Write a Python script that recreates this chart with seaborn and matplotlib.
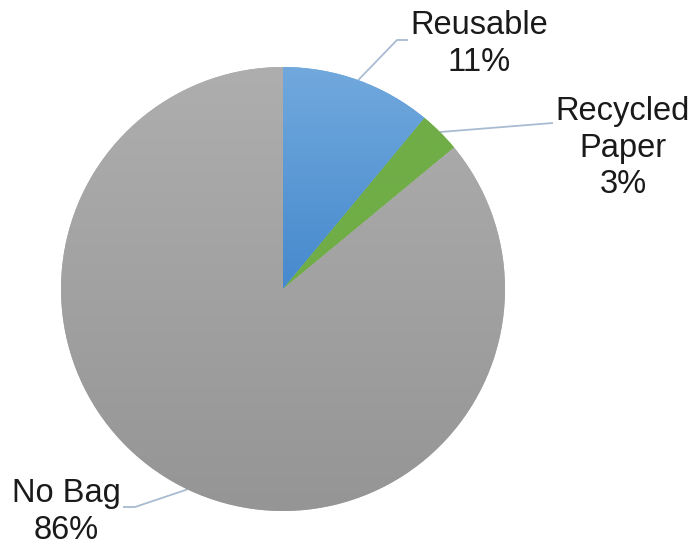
import numpy as np
import matplotlib
matplotlib.use("Agg")
import matplotlib.pyplot as plt
import seaborn as sns
from matplotlib.colors import LinearSegmentedColormap

categories = ["Reusable", "Recycled Paper", "No Bag"]
values = [11, 3, 86]
label_text = ["Reusable\n11%", "Recycled\nPaper\n3%", "No Bag\n86%"]
top_colors = ["#71a9dd", "#70ad47", "#aeaeae"]
bottom_colors = ["#4689cd", "#70ad47", "#959595"]

sns.set_theme(style="white")
plt.rcParams["font.family"] = ["Liberation Sans", "DejaVu Sans"]

W, H = 692, 546
fig = plt.figure(figsize=(W / 100, H / 100), dpi=100)
ax = fig.add_axes([0, 0, 1, 1])

cx, cy, R = 283, H - 289, 222
wedges, _ = ax.pie(values, startangle=90, counterclock=False,
                   colors=top_colors, center=(cx, cy), radius=R,
                   wedgeprops=dict(linewidth=0))

# vertical gradient fill per wedge
grad = np.linspace(0, 1, 256).reshape(-1, 1)
for w, tc, bc in zip(wedges, top_colors, bottom_colors):
    cmap = LinearSegmentedColormap.from_list("g", [bc, tc])
    bb = w.get_path().get_extents(w.get_transform() - ax.transData)
    im = ax.imshow(grad, cmap=cmap, origin="lower", aspect="auto",
                   extent=(bb.x0, bb.x1, bb.y0, bb.y1), zorder=w.get_zorder() + 0.1)
    im.set_clip_path(w)

# labels with leader lines
line_color = "#a9bbd1"
fs = 23.5
label_layout = [
    dict(text_xy=(479, H - 44), elbow=[(397, H - 40), (408, H - 40)], ang=None),
    dict(text_xy=(623, H - 148), elbow=[(553, H - 123)], ang=None),
    dict(text_xy=(66, H - 512), elbow=[(135, H - 507), (123, H - 507)], ang=244.5),
]
for w, txt, lay in zip(wedges, label_text, label_layout):
    ang = lay["ang"] if lay["ang"] is not None else (w.theta1 + w.theta2) / 2
    mid = np.deg2rad(ang)
    sx, sy = cx + R * np.cos(mid), cy + R * np.sin(mid)
    xs = [sx] + [p[0] for p in lay["elbow"]]
    ys = [sy] + [p[1] for p in lay["elbow"]]
    ax.plot(xs, ys, color=line_color, lw=1.3, zorder=0.5, solid_capstyle="butt")
    ax.text(*lay["text_xy"], txt, ha="center", va="center", fontsize=fs,
            color="#1a1a1a", linespacing=1.24)

ax.set_xlim(0, W)
ax.set_ylim(0, H)
ax.set_aspect("equal")
ax.axis("off")
fig.savefig("out.png", dpi=100, facecolor="white")
